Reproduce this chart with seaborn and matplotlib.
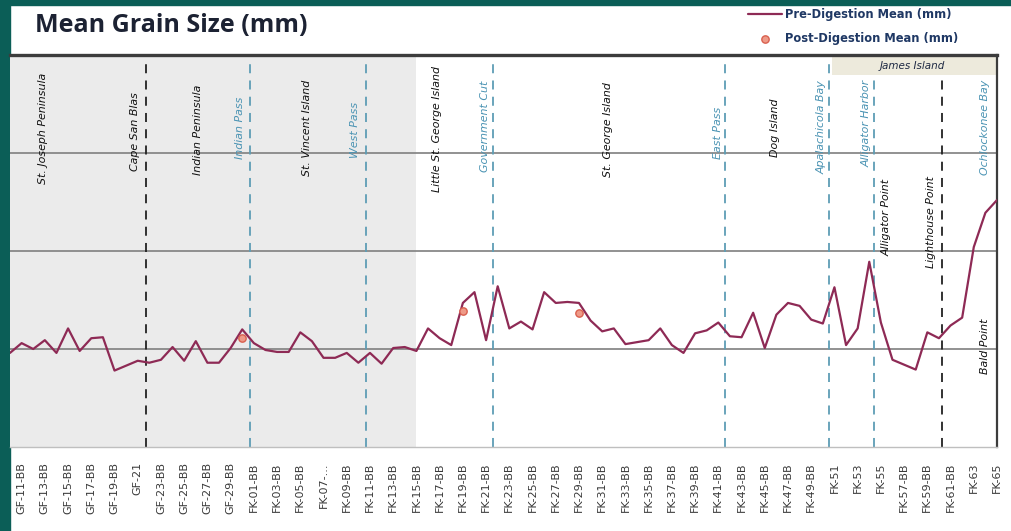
import matplotlib
matplotlib.use("Agg")
import numpy as np
import pandas as pd
import seaborn as sns
import matplotlib.pyplot as plt
from matplotlib.patches import Rectangle

# ---------- Data ----------
samples = [
    "GF-10-BB", "GF-11-BB", "GF-12-BB", "GF-13-BB", "GF-14-BB", "GF-15-BB", "GF-16-BB",
    "GF-17-BB", "GF-18-BB", "GF-19-BB", "GF-20-BB", "GF-21", "GF-22-BB", "GF-23-BB",
    "GF-24-BB", "GF-25-BB", "GF-26-BB", "GF-27-BB", "GF-28-BB", "GF-29-BB", "GF-30-BB",
    "FK-01-BB", "FK-02-BB", "FK-03-BB", "FK-04-BB", "FK-05-BB", "FK-06-BB", "FK-07-...",
    "FK-08-BB", "FK-09-BB", "FK-10-BB", "FK-11-BB", "FK-12-BB", "FK-13-BB", "FK-14-BB",
    "FK-15-BB", "FK-16-BB", "FK-17-BB", "FK-18-BB", "FK-19-BB", "FK-20-BB", "FK-21-BB",
    "FK-22-BB", "FK-23-BB", "FK-24-BB", "FK-25-BB", "FK-26-BB", "FK-27-BB", "FK-28-BB",
    "FK-29-BB", "FK-30-BB", "FK-31-BB", "FK-32-BB", "FK-33-BB", "FK-34-BB", "FK-35-BB",
    "FK-36-BB", "FK-37-BB", "FK-38-BB", "FK-39-BB", "FK-40-BB", "FK-41-BB", "FK-42-BB",
    "FK-43-BB", "FK-44-BB", "FK-45-BB", "FK-46-BB", "FK-47-BB", "FK-48-BB", "FK-49-BB",
    "FK-50-BB", "FK-51", "FK-52", "FK-53", "FK-54", "FK-55", "FK-56-BB", "FK-57-BB",
    "FK-58-BB", "FK-59-BB", "FK-60-BB", "FK-61-BB", "FK-62", "FK-63", "FK-64", "FK-65",
]
pre_mean = [
    0.096, 0.106, 0.100, 0.109, 0.096, 0.121, 0.098, 0.111, 0.112, 0.078,
    0.083, 0.088, 0.086, 0.089, 0.102, 0.088, 0.108, 0.086, 0.086, 0.101,
    0.120, 0.106, 0.099, 0.097, 0.097, 0.117, 0.108, 0.091, 0.091, 0.096,
    0.086, 0.096, 0.085, 0.101, 0.102, 0.098, 0.121, 0.111, 0.104, 0.147,
    0.158, 0.109, 0.164, 0.121, 0.128, 0.120, 0.158, 0.147, 0.148, 0.147,
    0.129, 0.118, 0.121, 0.105, 0.107, 0.109, 0.121, 0.104, 0.096, 0.116,
    0.119, 0.127, 0.113, 0.112, 0.137, 0.101, 0.135, 0.147, 0.144, 0.130,
    0.126, 0.163, 0.104, 0.121, 0.189, 0.127, 0.089, 0.084, 0.079, 0.117,
    0.111, 0.124, 0.132, 0.204, 0.239, 0.252,
]
post_samples = ["GF-30-BB", "FK-19-BB", "FK-29-BB"]
post_mean = [0.111, 0.139, 0.137]

# coastline annotations (rotated labels)
region_names = [
    "St. Joseph Peninsula", "Cape San Blas", "Indian Peninsula", "Indian Pass",
    "St. Vincent Island", "West Pass", "Little St. George Island", "Government Cut",
    "St. George Island", "East Pass", "Dog Island", "Apalachicola Bay",
    "Alligator Harbor", "Alligator Point", "Lighthouse Point", "Ochlockonee Bay",
    "Bald Point",
]
region_x = [2.8, 10.8, 16.2, 19.8, 25.6, 29.7, 36.8, 40.9, 51.5, 61.0, 65.9, 69.9,
            73.8, 75.5, 79.3, 84.0, 84.0]
region_y = [0.325, 0.322, 0.324, 0.326, 0.326, 0.324, 0.325, 0.327, 0.324, 0.321,
            0.326, 0.326, 0.330, 0.234, 0.230, 0.326, 0.103]
region_water = [False, False, False, True, False, True, False, True, False, True,
                False, True, True, False, False, True, False]

# dashed boundary markers
boundary_x = [11.7, 20.7, 30.7, 41.6, 61.6, 70.5, 74.4, 80.3]
boundary_water = [False, True, True, True, True, True, True, False]
shade_end = 35.0
james_start = 70.8

LINE_C = "#8E2A55"
WATER_C = "#4A93B3"
LINE_DASH_C = "#5E9DB5"

sns.set_style("white")
plt.rcParams["font.family"] = ["DejaVu Sans"]

fig = plt.figure(figsize=(10.12, 5.31), dpi=100)
fig.patch.set_facecolor("white")
fig.add_artist(Rectangle((0, 0), 10 / 1012, 1, transform=fig.transFigure,
                         color="#0B5E57", zorder=0))
fig.add_artist(Rectangle((0, 1 - 5 / 531), 1, 5 / 531, transform=fig.transFigure,
                         color="#0B5E57", zorder=0))

ax = fig.add_axes([10 / 1012, 84 / 531, 987 / 1012, 392 / 531])
ax.set_facecolor("white")

df = pd.DataFrame({"sample": samples, "mean": pre_mean})
df["pos"] = np.arange(len(df))
post = pd.DataFrame({"sample": post_samples, "mean": post_mean})
post["pos"] = [samples.index(s) for s in post_samples]

ax.axvspan(0, shade_end, color="#EBEBEB", zorder=0, lw=0)
for yv in [0.1, 0.2, 0.3]:
    ax.axhline(yv, color="#7F7F7F", lw=1.2, zorder=1)

for bx, water in zip(boundary_x, boundary_water):
    ax.axvline(bx, color=LINE_DASH_C if water else "#222222", lw=1.3,
               ls=(0, (5, 4)), zorder=2)

ax.add_patch(Rectangle((james_start, 0.3796), 85 - james_start, 0.0184,
                       facecolor="#EDEADC", edgecolor="none", zorder=2))
ax.text(77.7, 0.389, "James Island", style="italic", fontsize=7.5,
        color="#1F2A44", ha="center", va="center", zorder=3)

for name, x, y, water in zip(region_names, region_x, region_y, region_water):
    ax.text(x, y, name, rotation=90, style="italic", fontsize=7.9,
            color=WATER_C if water else "#111111", ha="center", va="center", zorder=3)

sns.lineplot(data=df, x="pos", y="mean", color=LINE_C, lw=1.6, ax=ax,
             label="Pre-Digestion Mean (mm)", zorder=4)
sns.scatterplot(data=post, x="pos", y="mean", ax=ax, s=28, marker="o",
                facecolor="#EE9A88", edgecolor="#D9604F", linewidth=1.0,
                label="Post-Digestion Mean (mm)", zorder=5)

ax.set_xlim(0, len(samples) - 1)
ax.set_ylim(0, 0.4)
ax.set_yticks([])
ax.set_xticks(np.arange(len(samples)))
ax.set_xticklabels([s if i % 2 == 1 else "" for i, s in enumerate(samples)],
                   rotation=90, fontsize=8, color="#3A3A3A")
ax.tick_params(axis="x", direction="out", length=5, width=0.8, color="#8C8C8C", pad=6)
ax.set_xlabel("")
ax.set_ylabel("")

ax.spines["left"].set_visible(False)
ax.spines["top"].set_color("#3C3C3C")
ax.spines["top"].set_linewidth(2.4)
ax.spines["right"].set_color("#3C3C3C")
ax.spines["right"].set_linewidth(1.6)
ax.spines["bottom"].set_color("#BFBFBF")
ax.spines["bottom"].set_linewidth(1.0)

leg = ax.legend(loc="upper left", bbox_to_anchor=(738 / 1012, 1 + 2 / 531),
                bbox_transform=fig.transFigure, frameon=False,
                prop={"weight": "bold", "size": 8.3}, handlelength=2.9,
                labelspacing=0.95, handletextpad=0.3)
for t in leg.get_texts():
    t.set_color("#1F3864")

fig.text(35 / 1012, 1 - 25 / 531, "Mean Grain Size (mm)", fontsize=18,
         fontweight="bold", color="#1C2233", ha="left", va="center",
         family=["Open Sans", "DejaVu Sans"])

fig.savefig("out.png", dpi=100)
